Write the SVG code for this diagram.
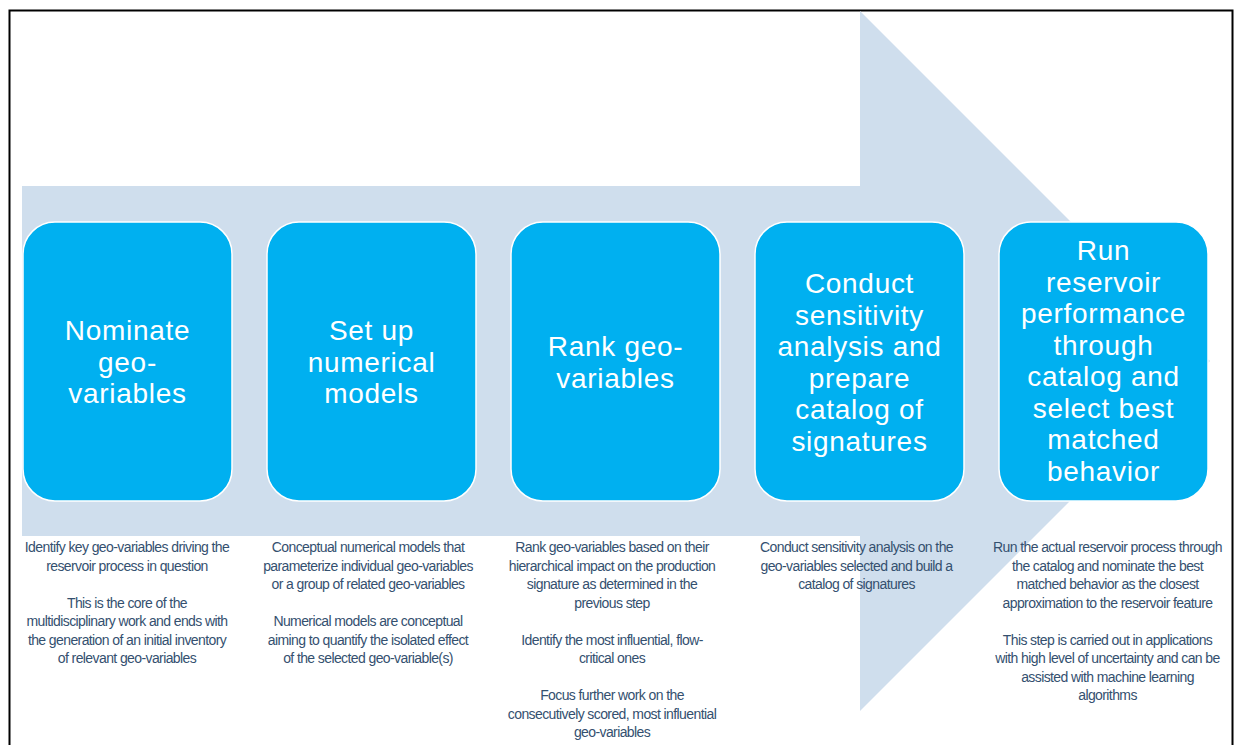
<svg xmlns="http://www.w3.org/2000/svg" width="1235" height="745" viewBox="0 0 1235 745">
<style>
.box{fill:#00B0F0;stroke:#FFFFFF;stroke-width:1.5}
.title{font-family:"Liberation Sans",Arial,sans-serif;font-size:28px;fill:#FFFFFF;text-anchor:middle;letter-spacing:0.7px}
.desc{font-family:"Liberation Sans",Arial,sans-serif;font-size:14px;fill:#34506F;text-anchor:middle;letter-spacing:-0.6px}
</style>
<rect x="0" y="0" width="1235" height="745" fill="#FFFFFF"/>
<rect x="9.5" y="10.5" width="1223" height="745" fill="none" stroke="#000000" stroke-width="2"/>
<g id="connectors">
<polygon points="22,186 860,186 860,11 1210,361 860,711 860,536 22,536" fill="#CFDEED"/>
</g>
<g id="node1">
<rect class="box" x="23" y="222" width="209" height="279" rx="32"/>
<text class="title" x="127.5" y="340">Nominate</text>
<text class="title" x="127.5" y="371.5">geo-</text>
<text class="title" x="127.5" y="403">variables</text>
<text class="desc" x="127" y="552">Identify key geo-variables driving the</text>
<text class="desc" x="127" y="570.5">reservoir process in question</text>
<text class="desc" x="127" y="607.5">This is the core of the</text>
<text class="desc" x="127" y="626">multidisciplinary work and ends with</text>
<text class="desc" x="127" y="644.5">the generation of an initial inventory</text>
<text class="desc" x="127" y="663">of relevant geo-variables</text>
</g>
<g id="node2">
<rect class="box" x="267" y="222" width="209" height="279" rx="32"/>
<text class="title" x="371.5" y="340">Set up</text>
<text class="title" x="371.5" y="371.5">numerical</text>
<text class="title" x="371.5" y="403">models</text>
<text class="desc" x="368" y="552">Conceptual numerical models that</text>
<text class="desc" x="368" y="570.5">parameterize individual geo-variables</text>
<text class="desc" x="368" y="589">or a group of related geo-variables</text>
<text class="desc" x="368" y="626">Numerical models are conceptual</text>
<text class="desc" x="368" y="644.5">aiming to quantify the isolated effect</text>
<text class="desc" x="368" y="663">of the selected geo-variable(s)</text>
</g>
<g id="node3">
<rect class="box" x="511" y="222" width="209" height="279" rx="32"/>
<text class="title" x="615.5" y="356">Rank geo-</text>
<text class="title" x="615.5" y="387.5">variables</text>
<text class="desc" x="612" y="552">Rank geo-variables based on their</text>
<text class="desc" x="612" y="570.5">hierarchical impact on the production</text>
<text class="desc" x="612" y="589">signature as determined in the</text>
<text class="desc" x="612" y="607.5">previous step</text>
<text class="desc" x="612" y="644.5">Identify the most influential, flow-</text>
<text class="desc" x="612" y="663">critical ones</text>
<text class="desc" x="612" y="700">Focus further work on the</text>
<text class="desc" x="612" y="718.5">consecutively scored, most influential</text>
<text class="desc" x="612" y="737">geo-variables</text>
</g>
<g id="node4">
<rect class="box" x="755" y="222" width="209" height="279" rx="32"/>
<text class="title" x="859.5" y="293">Conduct</text>
<text class="title" x="859.5" y="324.5">sensitivity</text>
<text class="title" x="859.5" y="356">analysis and</text>
<text class="title" x="859.5" y="387.5">prepare</text>
<text class="title" x="859.5" y="419">catalog of</text>
<text class="title" x="859.5" y="450.5">signatures</text>
<text class="desc" x="856.5" y="552">Conduct sensitivity analysis on the</text>
<text class="desc" x="856.5" y="570.5">geo-variables selected and build a</text>
<text class="desc" x="856.5" y="589">catalog of signatures</text>
</g>
<g id="node5">
<rect class="box" x="999" y="222" width="209" height="279" rx="32"/>
<text class="title" x="1103.5" y="260">Run</text>
<text class="title" x="1103.5" y="291.5">reservoir</text>
<text class="title" x="1103.5" y="323">performance</text>
<text class="title" x="1103.5" y="354.5">through</text>
<text class="title" x="1103.5" y="386">catalog and</text>
<text class="title" x="1103.5" y="417.5">select best</text>
<text class="title" x="1103.5" y="449">matched</text>
<text class="title" x="1103.5" y="480.5">behavior</text>
<text class="desc" x="1107.5" y="552">Run the actual reservoir process through</text>
<text class="desc" x="1107.5" y="570.5">the catalog and nominate the best</text>
<text class="desc" x="1107.5" y="589">matched behavior as the closest</text>
<text class="desc" x="1107.5" y="607.5">approximation to the reservoir feature</text>
<text class="desc" x="1107.5" y="644.5">This step is carried out in applications</text>
<text class="desc" x="1107.5" y="663">with high level of uncertainty and can be</text>
<text class="desc" x="1107.5" y="681.5">assisted with machine learning</text>
<text class="desc" x="1107.5" y="700">algorithms</text>
</g>
</svg>
